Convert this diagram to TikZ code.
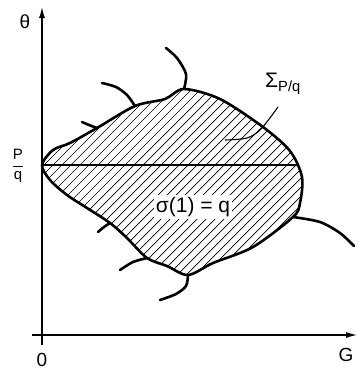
\documentclass[tikz,border=0pt]{standalone}
\usepackage{fontspec}
\setmainfont{Liberation Sans}
\usepackage{amsmath}
\usetikzlibrary{arrows.meta}

\begin{document}
\begin{tikzpicture}[x=1pt, y=-1pt, every node/.style={font=\fontsize{19}{22}\selectfont, inner sep=1pt},
  rim/.style={line width=2.6pt, line cap=round, line join=round},
  twig/.style={line width=2.6pt, line cap=round}]
  \useasboundingbox (0,0) rectangle (357,373);

  % axes
  \coordinate (O) at (42,335);
  \coordinate (Xs) at (32,335);
  \coordinate (Xe) at (357,335);
  \coordinate (Ys) at (42,345);
  \coordinate (Ye) at (42,7);
  \draw[line width=1.3pt, -{Latex[length=11pt,width=6pt]}] (Xs) -- (Xe);
  \draw[line width=1.3pt, -{Latex[length=11pt,width=6pt]}] (Ys) -- (Ye);
  \node (theta) at (25,22) {θ};
  \node (zero) at (42,360) {0};
  \node (G) at (346,355) {G};
  \node (Pq) at (18,166) {\fontsize{15}{17}\selectfont\(\dfrac{\text{P}}{\text{q}}\)};

  % junctions on the rim
  \coordinate (tip) at (42,165);
  \coordinate (jA) at (184,89);
  \coordinate (jB) at (135,106);
  \coordinate (jC) at (97,128);
  \coordinate (jD) at (293,217);
  \coordinate (jE) at (188,275);
  \coordinate (jF) at (147,258);
  \coordinate (jG) at (110,223);

  % hatched region
  \begin{scope}
    \clip plot[smooth cycle, tension=0.5] coordinates {(tip) (53,150) (70,143) (jC) (jB) (165,99) (jA) (220,99) (263,127) (290,151) (302,177) (300,203) (jD) (253,247) (213,263) (jE) (167,266) (jF) (127,238) (jG) (87,208) (67,195) (50,180)};
    \foreach \i in {-300,-291,...,320}
      \draw[line width=0.7pt] (\i,320) -- ++(260,-260);
    \draw[line width=1.1pt] (tip) -- (320,165);
  \end{scope}
  \draw[rim] plot[smooth cycle, tension=0.5] coordinates {(tip) (53,150) (70,143) (jC) (jB) (165,99) (jA) (220,99) (263,127) (290,151) (302,177) (300,203) (jD) (253,247) (213,263) (jE) (167,266) (jF) (127,238) (jG) (87,208) (67,195) (50,180)};

  % branches leaving the rim
  \draw[twig] plot[smooth] coordinates {(jA) (186,74) (177,58) (166,48)};
  \draw[twig] plot[smooth] coordinates {(jB) (127,95) (116,87) (102,83)};
  \draw[twig] plot[smooth] coordinates {(jC) (89,125) (82,122)};
  \draw[twig] plot[smooth] coordinates {(jD) (320,222) (340,233) (354,246)};
  \draw[twig] plot[smooth] coordinates {(jE) (186,286) (176,294) (160,300)};
  \draw[twig] plot[smooth] coordinates {(jF) (133,262) (120,270)};
  \draw[twig] plot[smooth] coordinates {(jG) (104,227) (98,232)};

  % labels
  \node[fill=white, inner sep=2pt] (sig) at (193,207) {\fontsize{21}{24}\selectfont σ(1) = q};
  \node (Sig) at (283,84) {\fontsize{21}{24}\selectfont\(\text{Σ}_{\text{P/q}}\)};
  \coordinate (hook) at (225,140);
  \draw[line width=1.1pt] plot[smooth] coordinates {(278,107) (261,129) (247,138) (hook)};
\end{tikzpicture}
\end{document}
